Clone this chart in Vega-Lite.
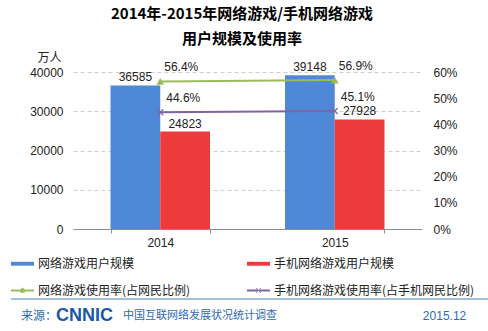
{
  "$schema": "https://vega.github.io/schema/vega-lite/v6.json",
  "padding": {"left": 10, "top": 7, "right": 0, "bottom": 0},
  "spacing": 50,
  "background": "white",
  "title": {
    "text": ["2014年-2015年网络游戏/手机网络游戏", "用户规模及使用率"],
    "font": "Noto Sans CJK SC",
    "fontSize": 15,
    "fontWeight": "bold",
    "lineHeight": 25,
    "color": "#000000",
    "anchor": "middle",
    "offset": 4,
    "dx": -8
  },
  "datasets": {
    "users": [
      {"year": "2014", "series": "网络游戏用户规模", "value": 36585},
      {"year": "2014", "series": "手机网络游戏用户规模", "value": 24823},
      {"year": "2015", "series": "网络游戏用户规模", "value": 39148},
      {"year": "2015", "series": "手机网络游戏用户规模", "value": 27928}
    ],
    "rates": [
      {"year": "2014", "series": "网络游戏使用率(占网民比例)", "rate": 0.564},
      {"year": "2015", "series": "网络游戏使用率(占网民比例)", "rate": 0.569},
      {"year": "2014", "series": "手机网络游戏使用率(占手机网民比例)", "rate": 0.446},
      {"year": "2015", "series": "手机网络游戏使用率(占手机网民比例)", "rate": 0.451}
    ]
  },
  "vconcat": [
    {
      "width": 349,
      "height": 157,
      "layer": [
        {
          "data": {"name": "users"},
          "encoding": {
            "x": {
              "field": "year", "type": "ordinal",
              "scale": {"paddingInner": 0.43, "paddingOuter": 0.215},
              "axis": {
                "title": null, "labelAngle": 0, "labelFont": "Liberation Sans", "labelFontSize": 12,
                "labelColor": "#222222", "domainColor": "#8c8c8c", "tickColor": "#8c8c8c",
                "tickSize": 4, "tickBand": "extent", "labelPadding": 4, "grid": false
              }
            },
            "xOffset": {
              "field": "series", "type": "nominal",
              "scale": {"domain": ["网络游戏用户规模", "手机网络游戏用户规模"], "paddingInner": 0, "paddingOuter": 0}
            },
            "y": {
              "field": "value", "type": "quantitative",
              "scale": {"domain": [0, 40000]},
              "axis": {
                "title": "万人", "titleAngle": 0, "titleAlign": "right", "titleBaseline": "middle",
                "titleX": -12, "titleY": -15, "titleFont": "Noto Sans CJK SC", "titleFontSize": 12,
                "titleFontWeight": "normal", "titleColor": "#222222",
                "values": [0, 10000, 20000, 30000, 40000], "format": "d",
                "labelFont": "Liberation Sans", "labelFontSize": 12, "labelColor": "#222222",
                "grid": true, "gridDash": [4, 3], "gridColor": "#cfcfcf",
                "domain": false, "ticks": false, "labelPadding": 10
              }
            }
          },
          "layer": [
            {
              "mark": {"type": "bar"},
              "encoding": {
                "color": {
                  "field": "series", "type": "nominal",
                  "scale": {
                    "domain": ["网络游戏用户规模", "手机网络游戏用户规模", "网络游戏使用率(占网民比例)", "手机网络游戏使用率(占手机网民比例)"],
                    "range": ["#4f88d6", "#ee3a3a", "#9bbb59", "#8064a2"]
                  }
                }
              }
            },
            {
              "mark": {"type": "text", "baseline": "bottom", "dy": -1, "font": "Liberation Sans", "fontSize": 12, "color": "#222222"},
              "encoding": {"text": {"field": "value", "type": "quantitative", "format": "d"}}
            }
          ]
        },
        {
          "data": {"name": "rates"},
          "encoding": {
            "x": {"field": "year", "type": "ordinal"},
            "y": {
              "field": "rate", "type": "quantitative",
              "scale": {"domain": [0, 0.6]},
              "axis": {
                "orient": "right", "title": null, "format": ".0%",
                "values": [0, 0.1, 0.2, 0.3, 0.4, 0.5, 0.6],
                "labelFont": "Liberation Sans", "labelFontSize": 12, "labelColor": "#222222",
                "grid": false, "domain": false, "ticks": false, "labelPadding": 11
              }
            }
          },
          "layer": [
            {
              "mark": {"type": "line", "strokeWidth": 2},
              "encoding": {"color": {"field": "series", "type": "nominal"}}
            },
            {
              "transform": [{"filter": "datum.series === '网络游戏使用率(占网民比例)'"}],
              "mark": {"type": "point", "shape": "triangle-up", "filled": true, "size": 60, "opacity": 1},
              "encoding": {"color": {"field": "series", "type": "nominal"}}
            },
            {
              "transform": [{"filter": "datum.series === '手机网络游戏使用率(占手机网民比例)'"}],
              "mark": {"type": "point", "shape": "M-1,-1L1,1M-1,1L1,-1", "filled": false, "size": 36, "strokeWidth": 1.2, "opacity": 1},
              "encoding": {"color": {"field": "series", "type": "nominal"}}
            },
            {
              "transform": [{"filter": "datum.series === '网络游戏使用率(占网民比例)'"}],
              "mark": {"type": "text", "align": "left", "baseline": "middle", "dx": 4, "dy": -14, "font": "Liberation Sans", "fontSize": 12, "color": "#222222"},
              "encoding": {"text": {"field": "rate", "type": "quantitative", "format": ".1%"}}
            },
            {
              "transform": [{"filter": "datum.series === '手机网络游戏使用率(占手机网民比例)'"}],
              "mark": {"type": "text", "align": "left", "baseline": "middle", "dx": 6, "dy": -14, "font": "Liberation Sans", "fontSize": 12, "color": "#222222"},
              "encoding": {"text": {"field": "rate", "type": "quantitative", "format": ".1%"}}
            },
            {
              "mark": {"type": "point", "filled": true, "opacity": 0},
              "encoding": {
                "color": {
                  "field": "series", "type": "nominal",
                  "legend": {
                    "title": null, "orient": "none", "legendX": -62, "legendY": 180, "columns": 2,
                    "direction": "horizontal",
                    "columnPadding": 56, "rowPadding": 9, "labelOffset": 4, "symbolSize": 529,
                    "symbolStrokeWidth": 0, "symbolOpacity": 1, "labelFont": "Noto Sans CJK SC",
                    "labelFontSize": 12, "labelColor": "#222222", "labelLimit": 300
                  }
                },
                "shape": {
                  "field": "series", "type": "nominal",
                  "scale": {
                    "domain": ["网络游戏用户规模", "手机网络游戏用户规模", "网络游戏使用率(占网民比例)", "手机网络游戏使用率(占手机网民比例)"],
                    "range": [
                      "M-1,-0.17H1V0.17H-1Z",
                      "M-1,-0.17H1V0.17H-1Z",
                      "M-1,-0.08H-0.2L0,-0.26L0.2,-0.08H1V0.08H0.2V0.2H-0.2V0.08H-1Z",
                      "M-1,-0.08H1V0.08H-1ZM-0.22,-0.17L-0.17,-0.22L0.22,0.17L0.17,0.22ZM-0.22,0.17L-0.17,0.22L0.22,-0.17L0.17,-0.22Z"
                    ]
                  },
                  "legend": {
                    "title": null, "orient": "none", "legendX": -62, "legendY": 180, "columns": 2,
                    "direction": "horizontal",
                    "columnPadding": 56, "rowPadding": 9, "labelOffset": 4, "symbolSize": 529,
                    "symbolStrokeWidth": 0, "symbolOpacity": 1, "labelFont": "Noto Sans CJK SC",
                    "labelFontSize": 12, "labelColor": "#222222", "labelLimit": 300
                  }
                }
              }
            }
          ]
        }
      ],
      "resolve": {"scale": {"y": "independent"}, "axis": {"y": "independent"}}
    },
    {
      "width": 416,
      "height": 28,
      "layer": [
        {
          "data": {"values": [{"t": "来源："}]},
          "mark": {"type": "text", "align": "left", "baseline": "middle", "dy": 3, "font": "Noto Sans CJK SC", "fontSize": 12, "color": "#2e6ab1"},
          "encoding": {
            "x": {
              "datum": -12.5, "type": "quantitative",
              "scale": {"domain": [0, 100]},
              "axis": null
            },
            "text": {"field": "t"}
          }
        },
        {
          "data": {"values": [{"t": "CNNIC"}]},
          "mark": {"type": "text", "align": "left", "baseline": "middle", "dy": 3, "font": "Liberation Sans", "fontSize": 18, "fontWeight": "bold", "color": "#1a57a8"},
          "encoding": {"x": {"datum": -4.1, "type": "quantitative"}, "text": {"field": "t"}}
        },
        {
          "data": {"values": [{"t": "中国互联网络发展状况统计调查"}]},
          "mark": {"type": "text", "align": "left", "baseline": "middle", "dy": 3, "font": "Noto Sans CJK SC", "fontSize": 11, "color": "#2e6ab1"},
          "encoding": {"x": {"datum": 12.0, "type": "quantitative"}, "text": {"field": "t"}}
        },
        {
          "data": {"values": [{"t": "2015.12"}]},
          "mark": {"type": "text", "align": "left", "baseline": "middle", "dy": 3, "font": "Liberation Sans", "fontSize": 12, "color": "#2e6ab1"},
          "encoding": {"x": {"datum": 84.1, "type": "quantitative"}, "text": {"field": "t"}}
        },
        {
          "data": {"values": [{"t": "separator"}]},
          "mark": {"type": "rule", "color": "#4a7fc1", "strokeWidth": 1},
          "encoding": {
            "x": {"datum": -14.9, "type": "quantitative"},
            "x2": {"datum": 100},
            "y": {"datum": 1, "type": "quantitative", "scale": {"domain": [0, 1]}, "axis": null}
          }
        }
      ]
    }
  ],
  "config": {"view": {"stroke": null}}
}
